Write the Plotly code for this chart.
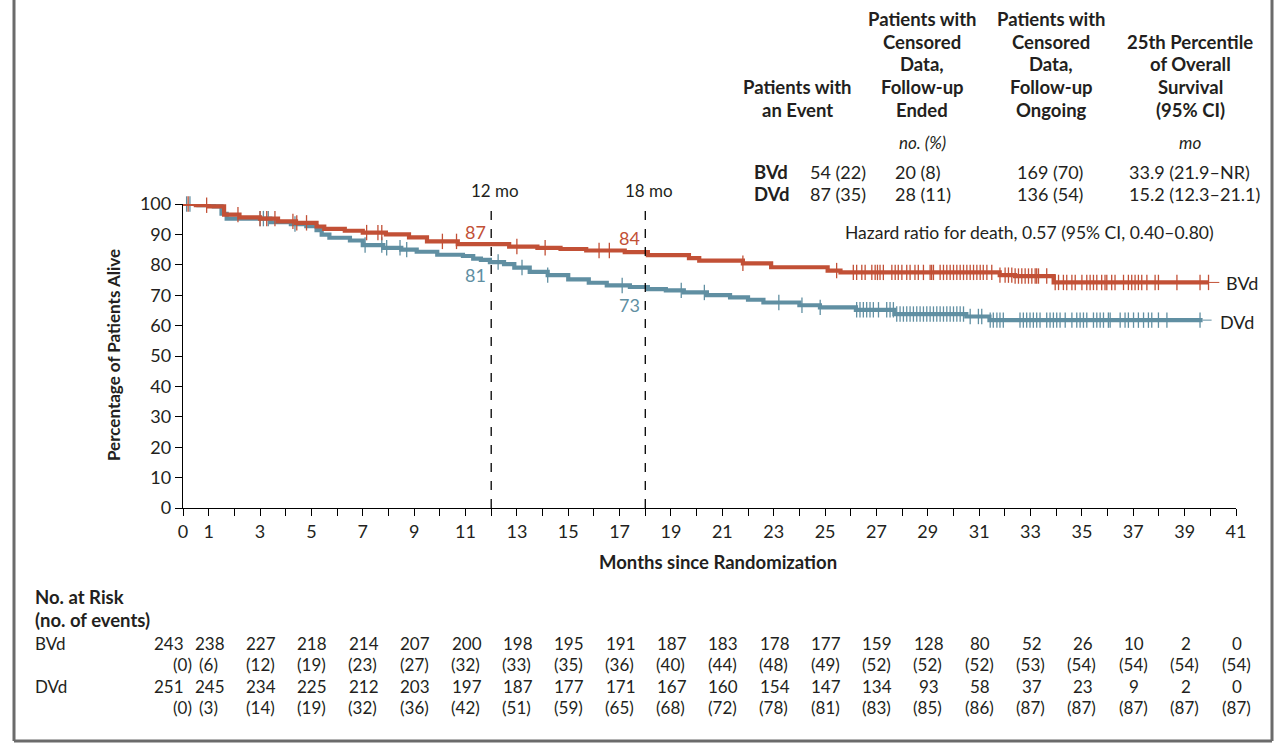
import numpy as np
import plotly.graph_objects as go

# ---------------- data ----------------
months_ticks = list(range(0, 42))
tick_label_months = [0, 1] + list(range(3, 42, 2))

# Kaplan-Meier steps (time in months, % alive after the step)
bvd_t = [0, 0.5, 1.0, 1.6, 2.2, 3.0, 3.7, 4.4, 5.2, 5.5, 6.3, 7.0, 7.9, 8.8, 9.5, 10.7,
         12.7, 13.8, 14.7, 15.7, 17.2, 18.1, 19.7, 20.1, 21.8, 22.9, 25.1, 25.6, 31.8, 32.4, 33.9]
bvd_s = [100, 99.6, 99.2, 96.5, 95.6, 95.2, 94.3, 93.8, 92.6, 91.8, 91.2, 90.6, 90.0, 89.0, 87.7, 86.8,
         86.0, 85.6, 85.2, 84.7, 84.2, 83.2, 82.2, 81.4, 80.5, 79.2, 78.1, 77.5, 76.6, 76.3, 74.2]
bvd_end = 39.95

dvd_t = [0, 0.6, 1.2, 1.5, 1.7, 3.4, 4.2, 4.8, 5.2, 5.4, 5.7, 6.5, 7.0, 7.8, 8.5, 9.1, 9.9, 10.9,
         11.3, 11.6, 11.95, 12.5, 12.9, 13.5, 14.2, 15.0, 15.8, 16.5, 17.4, 18.1, 18.8, 19.5, 20.4,
         21.3, 22.0, 22.6, 24.0, 24.8, 26.2, 27.7, 30.5, 31.4]
dvd_s = [100, 99.6, 99.2, 96.8, 95.2, 94.0, 93.4, 92.7, 91.4, 89.9, 88.9, 88.0, 86.5, 85.6, 85.0, 84.3,
         83.3, 82.9, 82.0, 81.6, 80.9, 80.2, 79.1, 77.7, 76.6, 75.2, 74.1, 73.2, 72.7, 72.0, 71.6, 70.9,
         70.0, 69.3, 68.5, 67.6, 66.7, 66.0, 65.2, 63.8, 63.0, 61.8]
dvd_end = 39.7

# censoring times
bvd_cens = [0.2, 0.92, 2.14, 3.0, 3.26, 3.58, 4.28, 4.43, 4.81, 7.15, 7.59, 7.74, 10.1, 10.65,
            13.0, 14.1, 16.2, 16.6, 21.8,
            25.45, 26.10, 26.23, 26.43, 26.56, 26.82, 26.95, 27.04, 27.14, 27.27, 27.60, 27.73,
            27.85, 27.99, 28.18, 28.31, 28.50, 28.63, 28.83, 29.09, 29.15, 29.22, 29.48, 29.61,
            29.74, 29.87, 30.00, 30.13, 30.26, 30.39, 30.52, 30.65, 30.78, 30.91, 31.04, 31.16,
            31.30, 31.49, 31.81, 32.01, 32.14, 32.27, 32.40, 32.53, 32.66, 32.79, 32.92, 33.05,
            33.18, 33.24, 33.31, 33.63, 33.96, 34.09, 34.28, 34.41, 34.61, 34.74, 35.00, 35.19,
            35.32, 35.45, 35.58, 35.77, 35.90, 35.97, 36.16, 36.29, 36.62, 36.81, 36.94, 37.07,
            37.20, 37.33, 37.53, 37.85, 37.98, 38.70, 39.60, 39.93]
dvd_cens = [0.14, 0.27, 3.0, 3.13, 3.32, 4.36, 7.09, 7.74, 7.93, 8.45, 8.71, 12.27, 13.2, 14.2,
            17.1, 19.4, 20.3, 23.2, 24.1,
            24.81, 26.23, 26.36, 26.49, 26.62, 26.75, 26.88, 27.08, 27.40, 27.53, 27.66, 27.79,
            27.92, 28.05, 28.18, 28.31, 28.44, 28.57, 28.70, 28.83, 28.96, 29.09, 29.22, 29.35,
            29.48, 29.61, 29.74, 29.87, 30.00, 30.13, 30.26, 30.39, 30.65, 30.97, 31.10, 31.43,
            31.55, 31.69, 31.81, 31.94, 32.59, 32.72, 32.85, 32.98, 33.11, 33.24, 33.37, 33.63,
            33.76, 33.89, 34.02, 34.15, 34.35, 34.61, 34.80, 34.93, 35.06, 35.19, 35.45, 35.58,
            35.71, 35.84, 36.03, 36.10, 36.49, 36.68, 36.81, 37.01, 37.20, 37.40, 37.59, 37.72,
            37.98, 38.31, 39.60]

landmark_months = [12, 18]
bvd_landmark = [87, 84]
dvd_landmark = [81, 73]

# risk table
risk_months = [0, 1] + list(range(3, 42, 2))
bvd_risk = [243, 238, 227, 218, 214, 207, 200, 198, 195, 191, 187, 183, 178, 177, 159, 128, 80, 52, 26, 10, 2, 0]
bvd_events = [0, 6, 12, 19, 23, 27, 32, 33, 35, 36, 40, 44, 48, 49, 52, 52, 52, 53, 54, 54, 54, 54]
dvd_risk = [251, 245, 234, 225, 212, 203, 197, 187, 177, 171, 167, 160, 154, 147, 134, 93, 58, 37, 23, 9, 2, 0]
dvd_events = [0, 3, 14, 19, 32, 36, 42, 51, 59, 65, 68, 72, 78, 81, 83, 85, 86, 87, 87, 87, 87, 87]

# summary table
table_groups = ["BVd", "DVd"]
col_event = ["54 (22)", "87 (35)"]
col_cens_ended = ["20 (8)", "28 (11)"]
col_cens_ongoing = ["169 (70)", "136 (54)"]
col_pct25 = ["33.9 (21.9–NR)", "15.2 (12.3–21.1)"]
hazard_text = "Hazard ratio for death, 0.57 (95% CI, 0.40–0.80)"

# ---------------- styling / layout helpers ----------------
RED = "rgb(194,80,54)"
BLUE = "rgb(96,143,162)"
FONT = "Lato"
TXT = "#231f20"
W, H = 1277, 743
L, R, T, B = 183, 1236, 204, 508


def PX(x):
    return (x - L) / (R - L)


def PY(y):
    return (B - y) / (B - T)


def step_lookup(t, s, q):
    idx = np.searchsorted(np.asarray(t), np.asarray(q), side="right") - 1
    return np.asarray(s)[idx]


fig = go.Figure()

for t, s, end, cens, col, name in [(dvd_t, dvd_s, dvd_end, dvd_cens, BLUE, "DVd"),
                                    (bvd_t, bvd_s, bvd_end, bvd_cens, RED, "BVd")]:
    fig.add_trace(go.Scatter(x=list(t) + [end], y=list(s) + [s[-1]], mode="lines",
                             line=dict(color=col, width=4.2, shape="hv"),
                             cliponaxis=False, showlegend=False, name=name, hoverinfo="skip"))
    fig.add_trace(go.Scatter(x=cens, y=step_lookup(t, s, cens), mode="markers",
                             marker=dict(symbol="line-ns", size=11, line=dict(color=col, width=1.3)),
                             cliponaxis=False, showlegend=False, hoverinfo="skip"))

shapes = []
# landmark dashed lines
for m in landmark_months:
    shapes.append(dict(type="line", xref="x", yref="y", x0=m, x1=m, y0=0, y1=100.5,
                       line=dict(color="black", width=1.3, dash="dash")))
# leader lines to curve labels
shapes.append(dict(type="line", xref="x", yref="y", x0=bvd_end, x1=40.35, y0=bvd_s[-1], y1=bvd_s[-1],
                   line=dict(color=RED, width=1)))
shapes.append(dict(type="line", xref="x", yref="y", x0=dvd_end, x1=40.05, y0=dvd_s[-1], y1=dvd_s[-1],
                   line=dict(color=BLUE, width=1)))
# frame
for (x0, y0, x1, y1) in [(14, 0, 14, 741), (14, 741, 1272, 741), (1272, 0, 1272, 741)]:
    shapes.append(dict(type="line", xref="paper", yref="paper", x0=PX(x0), x1=PX(x1), y0=PY(y0), y1=PY(y1),
                       line=dict(color="#6b6b6b", width=3)))

ann = []


def add_text(x, y, text, size=17, color=TXT, xanchor="center", xref="paper", bold=False, italic=False,
             xshift=0, textangle=0):
    if bold:
        text = "<b>" + text + "</b>"
    if italic:
        text = "<i>" + text + "</i>"
    ann.append(dict(x=x, y=PY(y), xref=xref, yref="paper", text=text, showarrow=False,
                    xanchor=xanchor, yanchor="middle", xshift=xshift, textangle=textangle,
                    font=dict(family=FONT, size=size, color=color)))


# landmark labels
for i, m in enumerate(landmark_months):
    add_text(m, 191, f"{m} mo", size=17, xref="x", xshift=4)
    add_text(m, [232, 238][i], str(bvd_landmark[i]), size=18, color=RED, xref="x", xanchor="right", xshift=-3)
    add_text(m, [275, 305][i], str(dvd_landmark[i]), size=18, color=BLUE, xref="x", xanchor="right", xshift=-3)

# curve labels
add_text(40.55, 283, "BVd", size=18, xref="x", xanchor="left")
add_text(40.3, 322, "DVd", size=18, xref="x", xanchor="left")

# hazard ratio
add_text(PX(1029), 232, hazard_text, size=17.5)

# summary table header
header_cols = [
    (797, ["Patients with", "an Event"]),
    (922, ["Patients with", "Censored", "Data,", "Follow-up", "Ended"]),
    (1051, ["Patients with", "Censored", "Data,", "Follow-up", "Ongoing"]),
    (1190, ["25th Percentile", "of Overall", "Survival", "(95% CI)"]),
]
for cx, lines in header_cols:
    n = len(lines)
    for k, line in enumerate(lines):
        y = 110 - 22.8 * (n - 1 - k)
        add_text(PX(cx), y, line, size=18.5, bold=True)
add_text(PX(922), 142, "no. (%)", size=17, italic=True)
add_text(PX(1190), 142, "mo", size=17, italic=True)

for i, g in enumerate(table_groups):
    y = 172 + 22 * i
    add_text(PX(752), y, g, size=18.5, bold=True, xanchor="left")
    add_text(PX(808), y, col_event[i], size=18, xanchor="left")
    add_text(PX(893), y, col_cens_ended[i], size=18, xanchor="left")
    add_text(PX(1015), y, col_cens_ongoing[i], size=18, xanchor="left")
    add_text(PX(1127), y, col_pct25[i], size=18, xanchor="left")

# axis titles
add_text(PX(718), 562, "Months since Randomization", size=18.5, bold=True)
add_text(PX(113), 355, "Percentage of Patients Alive", size=17, bold=True, textangle=-90)

# risk table
add_text(PX(33), 597, "No. at Risk", size=18.5, bold=True, xanchor="left")
add_text(PX(33), 620, "(no. of events)", size=18.5, bold=True, xanchor="left")
add_text(PX(33), 643, "BVd", size=17, xanchor="left")
add_text(PX(33), 686, "DVd", size=17, xanchor="left")
for rows, ys in [((bvd_risk, bvd_events), (643, 664)), ((dvd_risk, dvd_events), (686, 707))]:
    risk, ev = rows
    for j, m in enumerate(risk_months):
        if j == 0:
            add_text(m, ys[0], str(risk[j]), xref="x", xanchor="right", xshift=3)
            add_text(m, ys[1], f"({ev[j]})", xref="x", xanchor="center", xshift=-1)
        else:
            add_text(m, ys[0], str(risk[j]), xref="x", xshift=1)
            add_text(m, ys[1], f"({ev[j]})", xref="x")

fig.update_layout(
    width=W, height=H,
    margin=dict(l=L, r=W - R, t=T, b=H - B, pad=0),
    plot_bgcolor="white", paper_bgcolor="white",
    shapes=shapes, annotations=ann, showlegend=False,
    font=dict(family=FONT, size=17, color=TXT),
    xaxis=dict(range=[0, 41], tickmode="array", tickvals=months_ticks,
               ticktext=[str(m) if m in tick_label_months else "" for m in months_ticks],
               ticks="outside", ticklen=7, tickwidth=1.2, tickcolor="black",
               showline=True, linecolor="black", linewidth=1.3, showgrid=False, zeroline=False,
               tickfont=dict(family=FONT, size=18, color=TXT), fixedrange=True),
    yaxis=dict(range=[0, 100], tickmode="array", tickvals=list(range(0, 101, 10)),
               ticks="outside", ticklen=7, tickwidth=1.2, tickcolor="black",
               showline=True, linecolor="black", linewidth=1.3, showgrid=False, zeroline=False,
               tickfont=dict(family=FONT, size=18, color=TXT), fixedrange=True),
)

fig.write_html("out.html", config={"displayModeBar": False},
               post_script="document.body.style.margin='0';document.body.style.overflow='hidden';")
